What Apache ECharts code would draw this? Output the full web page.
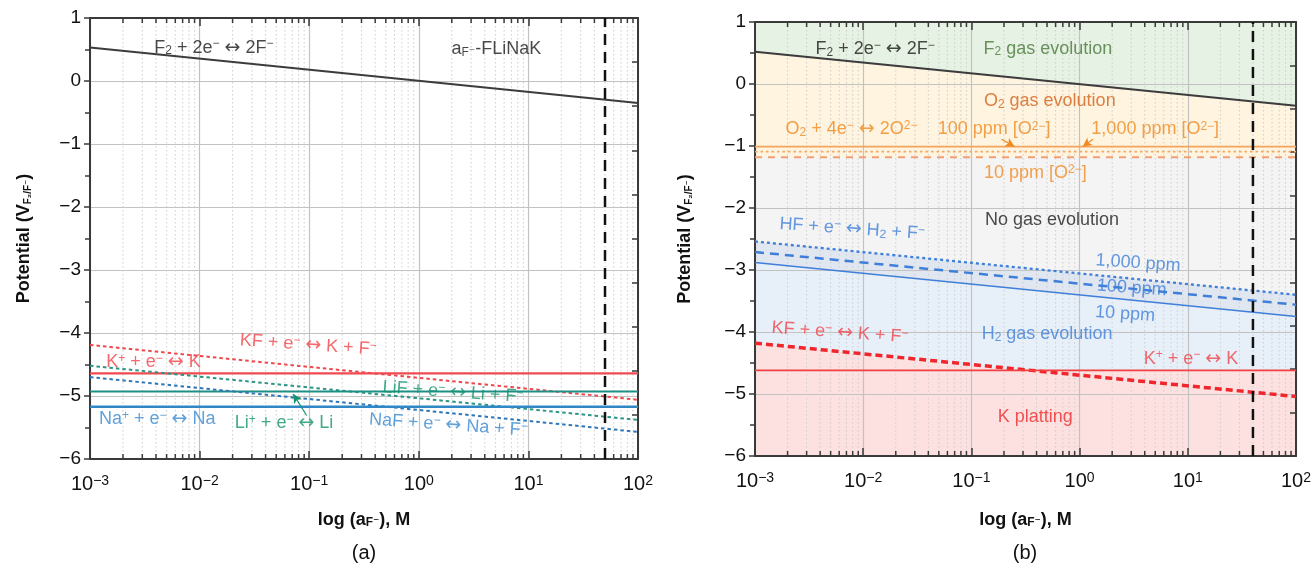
<!DOCTYPE html>
<html>
<head>
<meta charset="utf-8">
<script src="https://cdn.jsdelivr.net/npm/echarts@6.0.0/dist/echarts.min.js"></script>
<style>
html,body{margin:0;padding:0;background:#fff;}
#chart{width:1316px;height:570px;}
</style>
</head>
<body>
<div id="chart"></div>
<script>
// ---------------- DATA ----------------
const X_RANGE = [0.001, 100];
const Y_RANGE = [-6, 1];
const xTickExponents = [-3, -2, -1, 0, 1, 2];
const minorMantissas = [2, 3, 4, 5, 6, 7, 8, 9];

// Panel (a): a_F- in FLiNaK  -- [activity, potential]
const aF2   = [[0.001, 0.53], [100, -0.35]];
const aKF   = [[0.001, -4.19], [100, -5.06]];
const aK    = [[0.001, -4.64], [100, -4.64]];
const aLiF  = [[0.001, -4.52], [100, -5.38]];
const aLi   = [[0.001, -4.93], [100, -4.93]];
const aNaF  = [[0.001, -4.70], [100, -5.57]];
const aNa   = [[0.001, -5.17], [100, -5.17]];
const aCutoff = [[50, -6], [50, 1]];

// Panel (b)
const bTop     = [[0.001, 1], [100, 1]];
const bF2      = [[0.001, 0.52], [100, -0.35]];
const bO2_10   = [[0.001, -1.01], [100, -1.01]];
const bO2_100  = [[0.001, -1.09], [100, -1.09]];
const bO2_1000 = [[0.001, -1.18], [100, -1.18]];
const bHF_1000 = [[0.001, -2.54], [100, -3.40]];
const bHF_100  = [[0.001, -2.71], [100, -3.56]];
const bHF_10   = [[0.001, -2.88], [100, -3.75]];
const bKF      = [[0.001, -4.18], [100, -5.04]];
const bK       = [[0.001, -4.62], [100, -4.62]];
const bKEnvelope = [[0.001, -4.18], [0.25, -4.62], [100, -4.62]];
const bCutoff  = [[40, -6], [40, 1]];

// Annotations (anchor in data space)
const annotationsA = [
  {text: 'F{sub|2} + 2e{sup|−} ↔ 2F{sup|−}', at: [0.0135, 0.53], c: 'black'},
  {text: 'a{sub|F⁻}-FLiNaK', at: [5.1, 0.50], c: 'black'},
  {text: 'KF + e{sup|−} ↔ K + F{sup|−}', at: [0.098, -4.19], c: 'red', tilt: true},
  {text: 'K{sup|+} + e{sup|−} ↔ K', at: [0.0038, -4.46], c: 'red'},
  {text: 'LiF + e{sup|−} ↔ Li + F{sup|−}', at: [2.05, -4.94], c: 'green', tilt: true},
  {text: 'Na{sup|+} + e{sup|−} ↔ Na', at: [0.0041, -5.37], c: 'blue'},
  {text: 'Li{sup|+} + e{sup|−} ↔ Li', at: [0.059, -5.43], c: 'green'},
  {text: 'NaF + e{sup|−} ↔ Na + F{sup|−}', at: [1.86, -5.46], c: 'blue', tilt: true}
];
const arrowsA = [{from: [0.0948, -5.31], to: [0.0716, -4.97]}];

const annotationsB = [
  {text: 'F{sub|2} + 2e{sup|−} ↔ 2F{sup|−}', at: [0.0129, 0.56], c: 'black'},
  {text: 'F{sub|2} gas evolution', at: [0.51, 0.57], c: 'f2'},
  {text: 'O{sub|2} gas evolution', at: [0.53, -0.28], c: 'o2'},
  {text: 'O{sub|2} + 4e{sup|−} ↔ 2O{sup|2−}', at: [0.0078, -0.73], c: 'orange'},
  {text: '100 ppm [O{sup|2−}]', at: [0.162, -0.73], c: 'orange'},
  {text: '1,000 ppm [O{sup|2−}]', at: [5.0, -0.73], c: 'orange'},
  {text: '10 ppm [O{sup|2−}]', at: [0.39, -1.43], c: 'orange'},
  {text: 'No gas evolution', at: [0.556, -2.19], c: 'black'},
  {text: 'HF + e{sup|−} ↔ H{sub|2} + F{sup|−}', at: [0.0079, -2.34], c: 'hf', tilt: true},
  {text: '1,000 ppm', at: [3.47, -2.89], c: 'hf', tilt: true},
  {text: '100 ppm', at: [3.03, -3.29], c: 'hf', tilt: true},
  {text: '10 ppm', at: [2.63, -3.71], c: 'hf', tilt: true},
  {text: 'H{sub|2} gas evolution', at: [0.50, -4.04], c: 'hf'},
  {text: 'KF + e{sup|−} ↔ K + F{sup|−}', at: [0.0061, -4.01], c: 'red', tilt: true},
  {text: 'K{sup|+} + e{sup|−} ↔ K', at: [10.7, -4.43], c: 'red'},
  {text: 'K platting', at: [0.39, -5.37], c: 'kplat'}
];
const arrowsB = [
  {from: [0.19, -0.89], to: [0.25, -1.01]},
  {from: [1.33, -0.89], to: [1.07, -1.01]}
];

// ---------------- STYLE ----------------
const FONT = '"Liberation Sans", Arial, "DejaVu Sans", sans-serif';
const COLORS = {
  black: '#1a1a1a', red: '#f0434a', green: '#14946e', blue: '#3a8ad0',
  hf: '#3f80d8', orange: '#f08a22', o2: '#d4611b', f2: '#47773a', kplat: '#ee2b2b'
};
const TILT = -4;
const AXIS_COLOR = '#3a3a3a';
const RICH_ANN = {
  sup: {fontSize: 12, lineHeight: 9, verticalAlign: 'top'},
  sub: {fontSize: 12, lineHeight: 7, verticalAlign: 'bottom'},
  arr: {fontSize: 19, fontFamily: '"DejaVu Sans", sans-serif'}
};

const minorTicks = [];
xTickExponents.slice(0, -1).forEach(e => minorMantissas.forEach(m => minorTicks.push(m * Math.pow(10, e))));

function expText(e) { return e < 0 ? '−' + Math.abs(e) : String(e); }
function yFmt(v) { return v < 0 ? '−' + Math.abs(v) : String(v); }

function xBottom(gi, nameGap) {
  return {
    type: 'log', logBase: 10, gridIndex: gi, min: X_RANGE[0], max: X_RANGE[1], z: 3,
    axisLine: {show: true, onZero: false, lineStyle: {color: AXIS_COLOR, width: 2}},
    axisTick: {show: true, inside: true, length: 8, lineStyle: {color: AXIS_COLOR, width: 1.5}},
    axisLabel: {
      show: true, margin: 15, fontSize: 20, color: '#111', fontFamily: FONT,
      formatter: v => '10{sup|' + expText(Math.round(Math.log10(v))) + '}',
      rich: {sup: {fontSize: 14, lineHeight: 11, verticalAlign: 'top', fontFamily: FONT}}
    },
    splitLine: {show: true, lineStyle: {color: '#c2c2c2', width: 1.2}},
    name: 'log (a{sub|F⁻}), M', nameLocation: 'middle', nameGap: nameGap,
    nameTextStyle: {fontSize: 18, fontWeight: 'bold', color: '#111', fontFamily: FONT,
      rich: {sub: {fontSize: 12, lineHeight: 8, fontWeight: 'bold', verticalAlign: 'bottom', fontFamily: FONT}}}
  };
}
function xTop(gi) {
  return {
    type: 'log', logBase: 10, gridIndex: gi, position: 'top', min: X_RANGE[0], max: X_RANGE[1], z: 3,
    axisLine: {show: true, onZero: false, lineStyle: {color: AXIS_COLOR, width: 2}},
    axisTick: {show: true, inside: true, length: 8, lineStyle: {color: AXIS_COLOR, width: 1.5}},
    axisLabel: {show: false}, splitLine: {show: false}
  };
}
function yLeft(gi, nameGap) {
  return {
    type: 'value', gridIndex: gi, min: Y_RANGE[0], max: Y_RANGE[1], interval: 1, z: 3,
    axisLine: {show: true, onZero: false, lineStyle: {color: AXIS_COLOR, width: 2}},
    axisTick: {show: true, inside: false, length: 6, lineStyle: {color: AXIS_COLOR, width: 1.5}},
    minorTick: {show: true, splitNumber: 2, length: 5, lineStyle: {color: AXIS_COLOR, width: 1.5}},
    axisLabel: {show: true, margin: 9, fontSize: 19, color: '#111', fontFamily: FONT, formatter: yFmt},
    splitLine: {show: true, lineStyle: {color: '#c2c2c2', width: 1.2}},
    name: 'Potential (V{sub|F₂/F⁻})', nameLocation: 'middle', nameGap: nameGap, nameRotate: 90,
    nameTextStyle: {fontSize: 18, fontWeight: 'bold', color: '#111', fontFamily: FONT,
      rich: {sub: {fontSize: 10, lineHeight: 6, fontWeight: 'bold', verticalAlign: 'bottom', fontFamily: FONT}}}
  };
}
function yRight(gi) {
  return {
    type: 'value', gridIndex: gi, position: 'right', min: 0, max: 10, interval: 1, z: 3,
    axisLine: {show: true, onZero: false, lineStyle: {color: AXIS_COLOR, width: 2}},
    axisTick: {show: true, inside: true, length: 6, lineStyle: {color: AXIS_COLOR, width: 1.5}},
    axisLabel: {show: false}, splitLine: {show: false}
  };
}

function minorGrid(p) {
  return {
    type: 'custom', xAxisIndex: 2 * p, yAxisIndex: 2 * p, silent: true, z: 3,
    encode: {x: 0, y: 1},
    data: minorTicks.map(v => [v, Y_RANGE[0]]),
    renderItem: function (params, api) {
      const x = api.coord([api.value(0), api.value(1)])[0];
      const cs = params.coordSys;
      const y0 = cs.y, y1 = cs.y + cs.height;
      return {
        type: 'group', children: [
          {type: 'line', shape: {x1: x, y1: y0, x2: x, y2: y1}, style: {stroke: '#cdcdcd', lineWidth: 1, lineDash: [1.5, 2.5]}},
          {type: 'line', shape: {x1: x, y1: y1, x2: x, y2: y1 - 5}, style: {stroke: AXIS_COLOR, lineWidth: 1.5}},
          {type: 'line', shape: {x1: x, y1: y0, x2: x, y2: y0 + 5}, style: {stroke: AXIS_COLOR, lineWidth: 1.5}}
        ]
      };
    }
  };
}

function line(p, data, color, width, type) {
  return {
    type: 'line', xAxisIndex: 2 * p, yAxisIndex: 2 * p, data: data, showSymbol: false, symbol: 'none',
    silent: true, z: 4, lineStyle: {color: color, width: width, type: type || 'solid'}
  };
}
function fill(p, data, color) {
  return {
    type: 'line', xAxisIndex: 2 * p, yAxisIndex: 2 * p, data: data, showSymbol: false, symbol: 'none',
    silent: true, z: 1, lineStyle: {width: 0, opacity: 0},
    areaStyle: {color: color, opacity: 1, origin: 'start'}
  };
}
function annotations(p, list, arrows, arrowColor) {
  return {
    type: 'scatter', xAxisIndex: 2 * p, yAxisIndex: 2 * p, symbolSize: 0, silent: true, z: 5,
    data: list.map(a => ({
      value: a.at,
      label: {show: true, formatter: () => a.text.replace('↔', '{arr|↔}'), color: COLORS[a.c], rotate: a.tilt ? TILT : 0}
    })),
    label: {show: true, position: 'inside', fontSize: 18, fontFamily: FONT, rich: RICH_ANN},
    markLine: {
      silent: true, animation: false, symbol: ['none', 'arrow'], symbolSize: [7, 9],
      label: {show: false}, emphasis: {disabled: true},
      lineStyle: {color: arrowColor, width: 1.2, type: 'solid'},
      data: arrows.map(ar => [{coord: ar.from}, {coord: ar.to}])
    }
  };
}

const option = {
  animation: false,
  backgroundColor: '#ffffff',
  textStyle: {fontFamily: FONT},
  grid: [
    {left: 90, top: 18, width: 548, height: 441},
    {left: 755, top: 22, width: 541, height: 434}
  ],
  xAxis: [xBottom(0, 52), xTop(0), xBottom(1, 55), xTop(1)],
  yAxis: [yLeft(0, 57), yRight(0), yLeft(1, 61), yRight(1)],
  graphic: [
    {type: 'text', x: 364, y: 553, z: 10, style: {text: '(a)', font: '20px ' + FONT, fill: '#111', align: 'center', verticalAlign: 'middle', textAlign: 'center', textVerticalAlign: 'middle'}},
    {type: 'text', x: 1025, y: 553, z: 10, style: {text: '(b)', font: '20px ' + FONT, fill: '#111', align: 'center', verticalAlign: 'middle', textAlign: 'center', textVerticalAlign: 'middle'}}
  ],
  series: [
    // ----- panel (a)
    minorGrid(0),
    line(0, aF2, '#3c3c3c', 2),
    line(0, aKF, '#f0474d', 2, [3.5, 3]),
    line(0, aK, '#f04a50', 2.2),
    line(0, aLiF, '#2b9585', 2, [3.5, 3]),
    line(0, aLi, '#1e8f84', 2),
    line(0, aNaF, '#2f77b7', 2, [3.5, 3]),
    line(0, aNa, '#2f87c6', 2.5),
    line(0, aCutoff, '#111', 2.5, [11, 7]),
    annotations(0, annotationsA, arrowsA, COLORS.green),
    // ----- panel (b) fills
    fill(1, bTop, '#e6f2e3'),
    fill(1, bF2, '#fef4df'),
    fill(1, bO2_1000, '#f4f4f4'),
    fill(1, bHF_1000, '#e0e7f0'),
    fill(1, bHF_10, '#e7eff9'),
    fill(1, bKEnvelope, '#fde1e1'),
    minorGrid(1),
    line(1, bF2, '#3c3c3c', 2),
    line(1, bO2_10, '#f4a45c', 1.8),
    line(1, bO2_100, '#f4a862', 1.6, [2.5, 3]),
    line(1, bO2_1000, '#f0a074', 2, [7, 6]),
    line(1, bHF_1000, '#3f7fd9', 2.3, [3, 3]),
    line(1, bHF_100, '#3f7fd9', 2.5, [9, 6]),
    line(1, bHF_10, '#3f7fd9', 1.5),
    line(1, bKF, '#f0262c', 3.5, [7, 4]),
    line(1, bK, '#f04040', 1.8),
    line(1, bCutoff, '#111', 2.5, [11, 7]),
    annotations(1, annotationsB, arrowsB, COLORS.orange)
  ]
};

const chart = echarts.init(document.getElementById('chart'), null, {renderer: 'canvas'});
chart.setOption(option);
</script>
</body>
</html>
